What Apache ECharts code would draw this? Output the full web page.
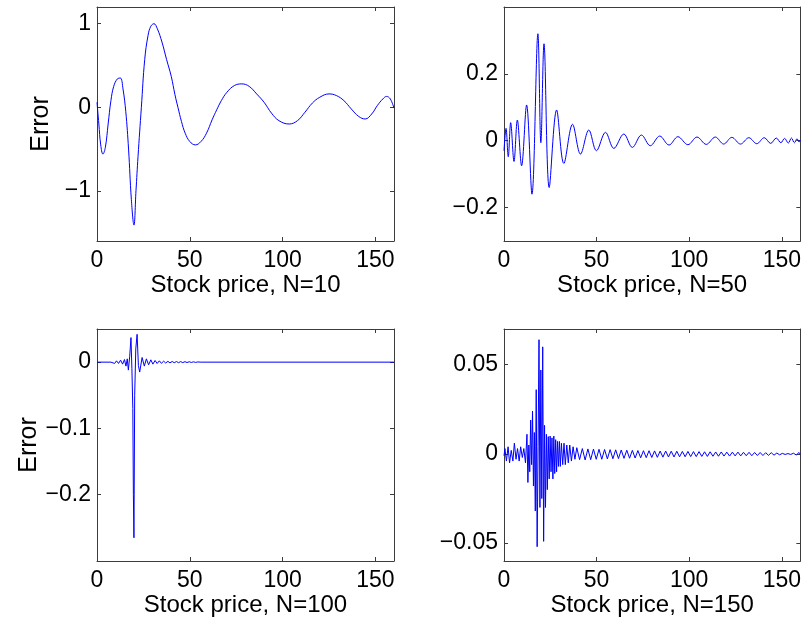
<!DOCTYPE html>
<html>
<head>
<meta charset="utf-8">
<script src="https://cdn.jsdelivr.net/npm/echarts@6/dist/echarts.min.js"></script>
<style>
  html, body { margin: 0; padding: 0; background: #fff; }
  #chart { width: 804px; height: 626px; }
</style>
</head>
<body>
<div id="chart"></div>
<script>
// Pricing error against stock price for four grid sizes N.
const panelTitles = ['Stock price, N=10', 'Stock price, N=50', 'Stock price, N=100', 'Stock price, N=150'];

const xTicks = [0, 50, 100, 150];
const yTicksN10 = [-1, 0, 1];
const yTicksN50 = [-0.2, 0, 0.2];
const yTicksN100 = [-0.2, -0.1, 0];
const yTicksN150 = [-0.05, 0, 0.05];

const yRangeN10 = [-1.6, 1.2];
const yRangeN50 = [-0.3, 0.4];
const yRangeN100 = [-0.3, 0.05];
const yRangeN150 = [-0.06, 0.07];

// [stock price, error]
const errN10 = [
  [0, 0.06], [1, -0.2], [2, -0.45], [3.2, -0.56], [4.5, -0.48], [6, -0.2], [7.5, 0.08],
  [9, 0.25], [11, 0.34], [12.6, 0.35], [14, 0.22], [15.5, -0.05], [17, -0.5], [18.5, -1.1],
  [19.9, -1.41], [21, -1.0], [22.1, -0.59], [23.9, 0.0], [25.7, 0.57], [27.5, 0.86], [29, 0.97],
  [30.7, 1.0], [32.5, 0.94], [35, 0.78], [37.5, 0.57], [40, 0.37], [42, 0.15], [43.6, 0.0],
  [45.5, -0.17], [47.5, -0.31], [50, -0.41], [53, -0.45], [56, -0.41], [59, -0.31], [62, -0.15],
  [64.5, -0.03], [67, 0.08], [70, 0.18], [74, 0.26], [78, 0.28], [82, 0.25], [86, 0.16],
  [90, 0.06], [94, -0.07], [98, -0.16], [103.5, -0.2], [108, -0.16], [112, -0.06], [116, 0.05],
  [120, 0.12], [125, 0.16], [129, 0.14], [133, 0.08], [137, -0.02], [141, -0.11], [144.5, -0.14],
  [148, -0.08], [151, 0.02], [154, 0.1], [156, 0.13], [158, 0.1], [160, -0.01]
];

const errN50 = [
  [0, -0.03], [1.1, 0.037], [2.3, -0.048], [3.6, 0.054], [5.4, -0.062], [7.2, 0.062],
  [9.5, -0.075], [12.2, 0.107], [15.1, -0.16], [18.3, 0.32], [19.9, -0.006], [21.6, 0.29],
  [24.4, -0.14], [28.4, 0.092], [32.3, -0.068], [37.0, 0.049], [41.3, -0.04], [45.8, 0.032],
  [49.9, -0.03], [54.8, 0.025], [59.3, -0.023], [64.7, 0.02], [69.3, -0.02], [74.2, 0.017],
  [79.0, -0.015], [84.1, 0.014], [89.1, -0.013], [93.9, 0.012], [99.3, -0.012], [104.2, 0.011],
  [109.2, -0.011], [114.1, 0.011], [118.6, -0.01], [123.0, 0.01], [127.7, -0.01], [132.2, 0.009],
  [136.5, -0.009], [140.5, 0.009], [144, -0.008], [147, 0.008], [149.5, -0.006], [151.5, 0.007],
  [153.5, -0.007], [155.2, 0.008], [156.8, -0.006], [158.2, 0.006], [159.3, -0.004], [160, 0.002]
];

const errN100 = [
  [0, 0], [7.5, 0], [8.5, 0.001], [9.5, -0.002], [10.5, 0.002], [11.6, -0.002], [12.7, 0.003],
  [13.8, -0.003], [14.8, 0.004], [15.6, -0.006], [16.3, 0.005], [16.9, -0.012], [17.6, 0.008],
  [18.3, 0.037], [18.8, -0.01], [19.3, -0.07], [19.6, -0.2], [19.9, -0.265], [20.3, -0.05],
  [20.9, 0.02], [21.6, 0.042], [22.3, -0.005], [23.0, -0.015], [24.3, 0.007], [25.5, -0.006],
  [26.6, 0.005], [27.8, -0.004], [29.0, 0.0035], [30.1, -0.003], [31.3, 0.0025], [32.4, -0.002],
  [33.6, 0.002], [34.7, -0.0018], [35.9, 0.0015], [37.0, -0.0013], [38.2, 0.0012], [39.3, -0.0011],
  [40.5, 0.001], [41.6, -0.0009], [42.8, 0.0009], [43.9, -0.0008], [45.1, 0.0008], [46.2, -0.0007],
  [47.4, 0.0007], [48.5, -0.0006], [49.7, 0.0006], [50.8, -0.0005], [52, 0.0005], [53.1, -0.0004],
  [54.3, 0.0003], [56, 0], [160, 0]
];

const errN150 = [
  [0, -0.001], [0.5, 0.003], [1.3, -0.004], [2.2, 0.004], [3.0, -0.005], [3.9, 0.002],
  [4.8, -0.004], [5.6, 0.006], [6.5, -0.003], [7.3, 0.003], [8.2, -0.004], [9.0, 0.004],
  [9.9, -0.002], [10.7, 0.003], [11.6, -0.005], [12.4, 0.011], [12.9, -0.016], [13.4, 0.005],
  [13.9, -0.01], [14.4, 0.019], [14.9, -0.006], [15.4, 0.024], [15.9, -0.018], [16.4, 0.012],
  [16.9, -0.032], [17.4, 0.036], [17.9, -0.052], [18.4, 0.004], [18.9, 0.064], [19.4, -0.03],
  [19.9, 0.047], [20.4, -0.025], [20.9, 0.06], [21.4, -0.049], [21.9, 0.016], [22.4, -0.03],
  [22.9, 0.011], [23.4, -0.02], [23.9, 0.0097], [24.4, -0.014], [24.9, 0.01], [25.4, -0.01],
  [25.9, 0.009], [26.4, -0.014], [26.9, 0.01], [27.4, -0.011], [27.9, 0.008], [28.4, -0.01],
  [28.9, 0.007], [29.4, -0.007], [29.9, 0.007], [30.4, -0.007], [31.0, 0.006], [31.7, -0.006],
  [32.4, 0.006], [33.1, -0.006], [33.9, 0.005], [34.7, -0.005], [35.5, 0.005], [36.4, -0.004],
  [37.3, 0.004], [38.3, -0.003], [39.3, 0.0035], [40.8, -0.0032], [42.3, 0.003], [43.8, -0.0034],
  [45.3, 0.0028], [46.8, -0.0032], [48.3, 0.0027], [49.8, -0.003], [51.3, 0.0026], [52.8, -0.003],
  [54.3, 0.0025], [55.8, -0.0028], [57.3, 0.0024], [58.8, -0.0027], [60.3, 0.0023], [61.8, -0.0026],
  [63.3, 0.0022], [64.8, -0.0025], [66.3, 0.0021], [67.8, -0.0024], [69.3, 0.002], [70.8, -0.0023],
  [72.3, 0.0019], [73.8, -0.0022], [75.3, 0.0018], [76.8, -0.0021], [78.3, 0.0018], [79.8, -0.002],
  [81.3, 0.0017], [82.8, -0.0019], [84.3, 0.0016], [85.8, -0.0018], [87.3, 0.0016], [88.8, -0.0017],
  [90.3, 0.0015], [91.8, -0.0017], [93.3, 0.0015], [94.8, -0.0016], [96.3, 0.0014], [97.8, -0.0016],
  [99.3, 0.0014], [100.8, -0.0015], [102.3, 0.0013], [103.8, -0.0015], [105.3, 0.0013], [106.8, -0.0014],
  [108.3, 0.0012], [109.8, -0.0014], [111.3, 0.0012], [112.8, -0.0013], [114.3, 0.0011], [115.8, -0.0013],
  [117.3, 0.0011], [118.8, -0.0012], [120.3, 0.001], [121.8, -0.0012], [123.3, 0.001], [124.8, -0.0011],
  [126.3, 0.001], [127.8, -0.0011], [129.3, 0.0009], [130.8, -0.001], [132.3, 0.0009], [133.8, -0.001],
  [135.3, 0.0008], [136.8, -0.0009], [138.3, 0.0008], [139.8, -0.0009], [141.3, 0.0007], [142.8, -0.0008],
  [144.3, 0.0007], [145.8, -0.0007], [147.3, 0.0005], [148.8, -0.0005], [150.3, 0.0003], [151.8, -0.0003],
  [153.3, 0.0002], [154.8, -0.0003], [156.3, 0.0004], [157.8, -0.0006], [159.3, 0.0008], [160, -0.0002]
];

const FONT = 'Liberation Sans';
const AXIS_COLOR = '#3c3c3c';
const LINE_COLOR = '#0000ff';

const panels = [
  { data: errN10, yTicks: yTicksN10, yRange: yRangeN10, ylabel: 'Error', smooth: 0.4 },
  { data: errN50, yTicks: yTicksN50, yRange: yRangeN50, ylabel: '', smooth: 0.35 },
  { data: errN100, yTicks: yTicksN100, yRange: yRangeN100, ylabel: 'Error', smooth: false },
  { data: errN150, yTicks: yTicksN150, yRange: yRangeN150, ylabel: '', smooth: false }
];

const grids = [
  { left: 97, top: 7, width: 297, height: 234 },
  { left: 504, top: 7, width: 297, height: 234 },
  { left: 97, top: 329, width: 297, height: 232 },
  { left: 504, top: 329, width: 297, height: 232 }
];

const minusSign = v => String(v).replace('-', '\u2212');

const xAxes = [];
const yAxes = [];
const series = [];

panels.forEach((p, i) => {
  const common = {
    gridIndex: i,
    type: 'value',
    splitLine: { show: false },
    axisLine: { show: true, onZero: false, lineStyle: { color: AXIS_COLOR, width: 1 } },
    axisTick: { show: true, inside: true, length: 4, lineStyle: { color: AXIS_COLOR } }
  };
  // bottom axis with labels, plus a mirrored top edge
  xAxes.push(Object.assign({}, common, {
    position: 'bottom', min: 0, max: 160,
    axisTick: Object.assign({}, common.axisTick, { customValues: xTicks }),
    axisLabel: { customValues: xTicks, color: '#000', fontFamily: FONT, fontSize: 23, margin: 8, formatter: minusSign },
    name: panelTitles[i], nameLocation: 'middle', nameGap: 32,
    nameTextStyle: { color: '#000', fontFamily: FONT, fontSize: 24 }
  }));
  xAxes.push(Object.assign({}, common, {
    position: 'top', min: 0, max: 160,
    axisTick: Object.assign({}, common.axisTick, { customValues: xTicks }),
    axisLabel: { show: false }
  }));
  // left axis with labels, plus a mirrored right edge
  yAxes.push(Object.assign({}, common, {
    position: 'left', min: p.yRange[0], max: p.yRange[1],
    axisTick: Object.assign({}, common.axisTick, { customValues: p.yTicks }),
    axisLabel: { customValues: p.yTicks, color: '#000', fontFamily: FONT, fontSize: 23, margin: 6, formatter: minusSign },
    name: p.ylabel, nameLocation: 'middle', nameGap: 43, nameRotate: 90,
    nameTextStyle: { color: '#000', fontFamily: FONT, fontSize: 25 }
  }));
  yAxes.push(Object.assign({}, common, {
    position: 'right', min: p.yRange[0], max: p.yRange[1],
    axisTick: Object.assign({}, common.axisTick, { customValues: p.yTicks }),
    axisLabel: { show: false }
  }));
  series.push({
    type: 'line',
    xAxisIndex: 2 * i,
    yAxisIndex: 2 * i,
    data: p.data,
    smooth: p.smooth,
    showSymbol: false,
    clip: true,
    lineStyle: { color: LINE_COLOR, width: 1 },
    emphasis: { disabled: true }
  });
});

const chart = echarts.init(document.getElementById('chart'), null, { renderer: 'canvas' });
chart.setOption({
  backgroundColor: '#fff',
  animation: false,
  grid: grids,
  xAxis: xAxes,
  yAxis: yAxes,
  series: series
});
</script>
</body>
</html>
